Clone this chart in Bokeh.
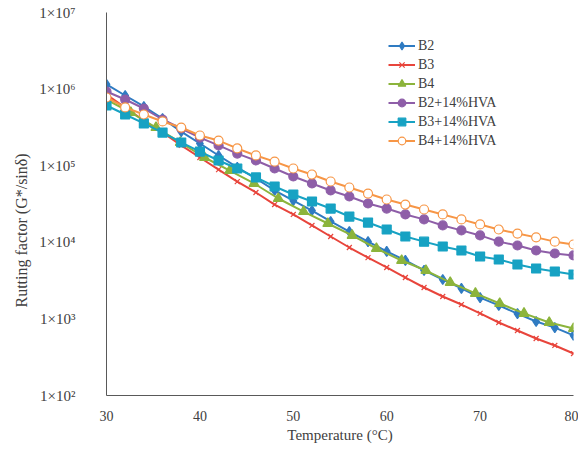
from bokeh.plotting import figure
from bokeh.models import Range1d, FixedTicker, Legend, LegendItem, Title
from bokeh.embed import file_html
from bokeh.resources import INLINE

# ---- data ----
temps = [30, 32, 34, 36, 38, 40, 42, 44, 46, 48, 50, 52, 54, 56, 58, 60,
         62, 64, 66, 68, 70, 72, 74, 76, 78, 80]
temps_b4 = [30.0, 32.6, 35.3, 37.9, 40.5, 43.2, 45.8, 48.4, 51.1, 53.7,
            56.3, 58.9, 61.6, 64.2, 66.8, 69.5, 72.1, 74.7, 77.4, 80.0]

b2 = [1.15e6, 8.25e5, 5.93e5, 4.13e5, 2.79e5, 1.95e5, 1.36e5, 9.5e4, 6.8e4,
      4.75e4, 3.5e4, 2.6e4, 1.87e4, 1.38e4, 1.02e4, 7.6e3, 5.8e3, 4.3e3,
      3.27e3, 2.5e3, 1.9e3, 1.5e3, 1.17e3, 9.25e2, 7.7e2, 6.1e2]
b3 = [8.5e5, 5.76e5, 3.89e5, 2.71e5, 1.84e5, 1.28e5, 8.9e4, 6.2e4, 4.47e4,
      3.11e4, 2.31e4, 1.66e4, 1.19e4, 8.55e3, 6.3e3, 4.69e3, 3.47e3, 2.57e3,
      1.96e3, 1.54e3, 1.18e3, 8.97e2, 7.06e2, 5.55e2, 4.5e2, 3.53e2]
b4 = [7.31e5, 4.95e5, 3.15e5, 2.01e5, 1.28e5, 8.65e4, 5.86e4, 3.73e4, 2.52e4,
      1.76e4, 1.23e4, 8.3e3, 5.78e3, 4.28e3, 2.99e3, 2.15e3, 1.59e3, 1.18e3,
      8.97e2, 7.5e2]
b2_hva = [9.3e5, 7.31e5, 5.58e5, 4.01e5, 3.06e5, 2.33e5, 1.84e5, 1.44e5,
          1.17e5, 9.19e4, 7.23e4, 5.86e4, 4.75e4, 3.96e4, 3.21e4, 2.76e4,
          2.31e4, 1.99e4, 1.66e4, 1.43e4, 1.23e4, 1.02e4, 9.08e3, 7.82e3,
          7.14e3, 6.73e3]
b3_hva = [6.11e5, 4.66e5, 3.56e5, 2.71e5, 2.01e5, 1.53e5, 1.17e5, 9.19e4,
          7.02e4, 5.35e4, 4.21e4, 3.41e4, 2.76e4, 2.17e4, 1.81e4, 1.47e4,
          1.19e4, 1.02e4, 8.81e3, 7.82e3, 6.53e3, 5.96e3, 5.13e3, 4.55e3,
          4.16e3, 3.80e3]
b4_hva = [7.77e5, 5.76e5, 4.66e5, 3.78e5, 3.15e5, 2.48e5, 2.13e5, 1.68e5,
          1.36e5, 1.13e5, 9.19e4, 7.67e4, 6.22e4, 5.19e4, 4.33e4, 3.62e4,
          3.11e4, 2.68e4, 2.31e4, 1.99e4, 1.71e4, 1.47e4, 1.30e4, 1.16e4,
          1.02e4, 9.36e3]

x_ticks = [30, 40, 50, 60, 70, 80]
y_ticks = [1e2, 1e3, 1e4, 1e5, 1e6, 1e7]
y_tick_labels = ["1×10²", "1×10³", "1×10⁴", "1×10⁵", "1×10⁶", "1×10⁷"]
x_title = "Temperature (°C)"
y_title = "Rutting factor (G*/sinδ)"

FONT = "Liberation Serif"
TXT = "#404040"

p = figure(width=578, height=447, x_range=Range1d(30, 80),
           y_range=Range1d(1e2, 1e7), y_axis_type="log",
           output_backend="svg", toolbar_location=None,
           min_border_left=106, min_border_right=5, min_border_top=12,
           min_border_bottom=52)
p.outline_line_color = None
p.grid.grid_line_color = None
p.background_fill_color = "white"
p.border_fill_color = "white"

# axes
p.xaxis.ticker = FixedTicker(ticks=x_ticks)
p.yaxis.ticker = FixedTicker(ticks=y_ticks)
p.yaxis.major_label_overrides = {int(t): s for t, s in zip(y_ticks, y_tick_labels)}
for ax in (p.xaxis, p.yaxis):
    ax.major_tick_line_color = None
    ax.minor_tick_line_color = None
    ax.axis_line_color = "#595959"
    ax.axis_line_width = 1
    ax.major_label_text_font = FONT
    ax.major_label_text_font_size = "14px"
    ax.major_label_text_color = TXT
p.yaxis.major_label_text_font_size = "15px"
p.yaxis.major_label_standoff = 25
p.xaxis.major_label_standoff = 9
p.xaxis.axis_label = x_title
p.xaxis.axis_label_text_font = FONT
p.xaxis.axis_label_text_font_size = "15px"
p.xaxis.axis_label_text_font_style = "normal"
p.xaxis.axis_label_text_color = TXT
p.xaxis.axis_label_standoff = 3

ytitle = Title(text=y_title, align="left", offset=88, standoff=13,
               text_font=FONT, text_font_size="16px",
               text_font_style="normal", text_color=TXT)
p.add_layout(ytitle, "left")

series = [
    ("B2", temps, b2, "#2F7BC2", "diamond", 10, "#2F7BC2"),
    ("B3", temps, b3, "#E8453C", "x", 7, None),
    ("B4", temps_b4, b4, "#8CB43C", "triangle", 10, "#8CB43C"),
    ("B2+14%HVA", temps, b2_hva, "#8E5EA8", "circle", 9, "#8E5EA8"),
    ("B3+14%HVA", temps, b3_hva, "#17A2C3", "square", 9, "#17A2C3"),
    ("B4+14%HVA", temps, b4_hva, "#F79646", "circle", 9, "white"),
]

items = []
for name, xs, ys, col, mk, sz, fill in series:
    ln = p.line(xs, ys, line_color=col, line_width=2)
    sc = p.scatter(xs, ys, marker=mk, size=sz, line_color=col,
                   fill_color=fill if fill else col, line_width=1.2)
    items.append(LegendItem(label=name, renderers=[ln, sc]))

legend = Legend(items=items, location=(282, 245))
legend.background_fill_alpha = 0
legend.border_line_color = None
legend.padding = 0
legend.spacing = 0
legend.margin = 0
legend.label_height = 19
legend.glyph_height = 19
legend.glyph_width = 27
legend.label_standoff = 3
legend.label_text_font = FONT
legend.label_text_font_size = "14px"
legend.label_text_color = TXT
p.add_layout(legend, "center")

open("out.html", "w").write(file_html(p, INLINE))
